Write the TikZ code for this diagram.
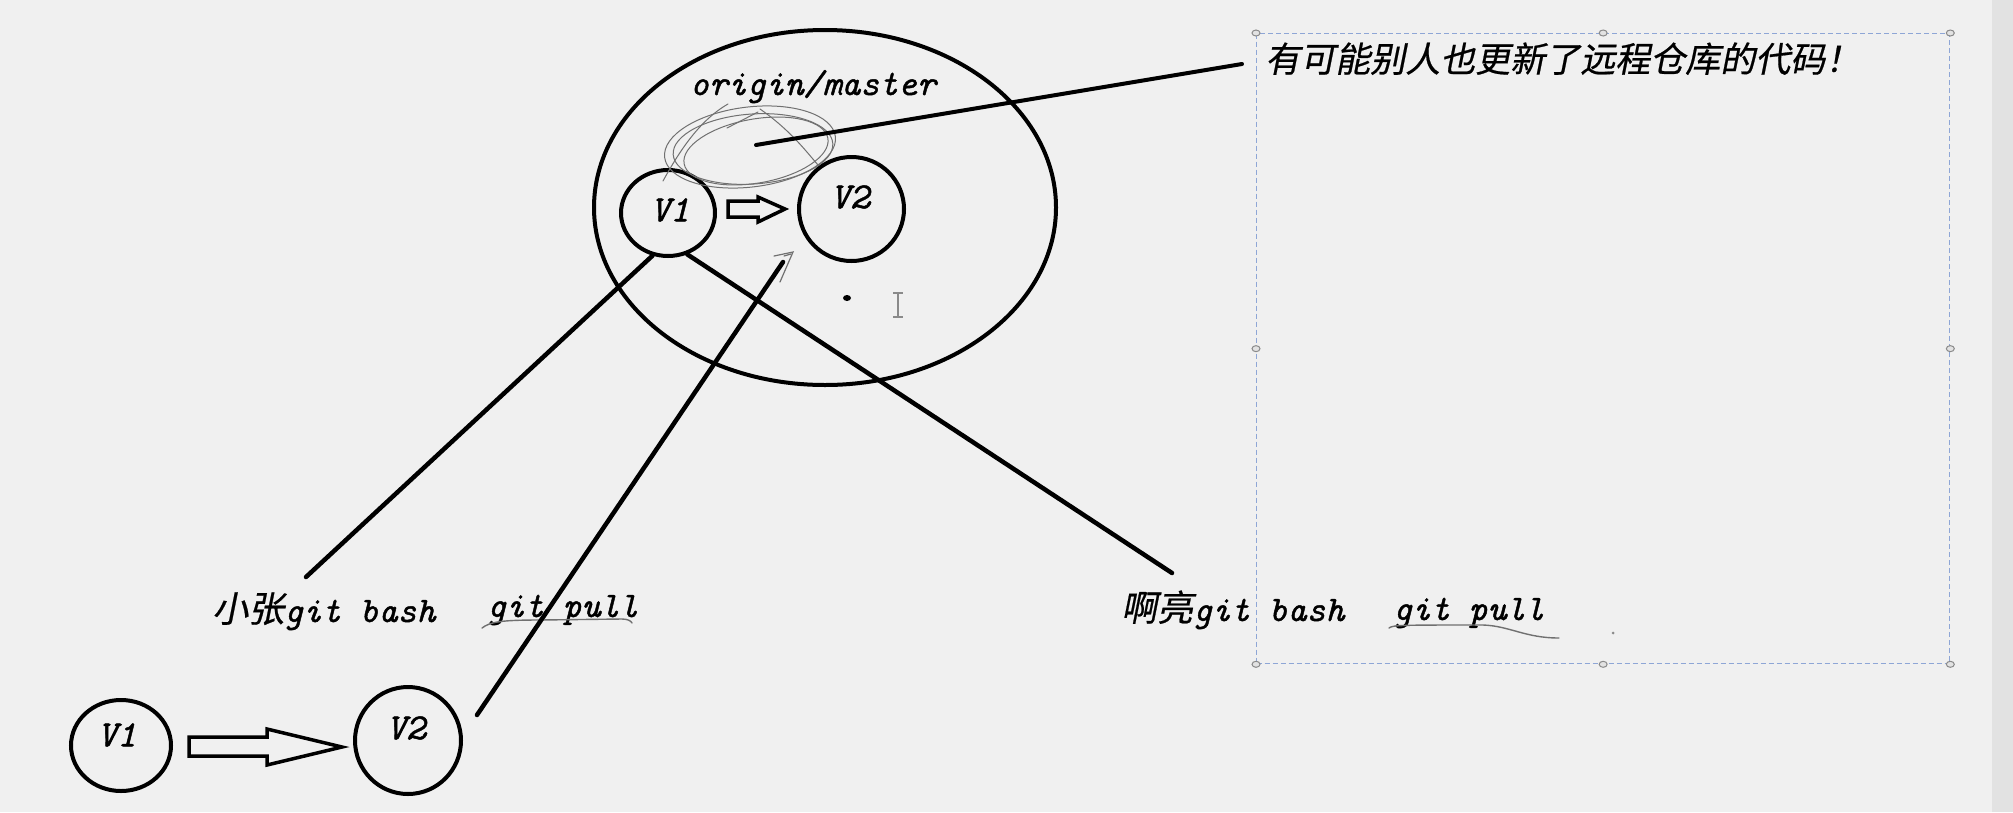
\documentclass[tikz,border=0pt]{standalone}
\usepackage{fontspec}
\newfontfamily\cjk[FakeSlant=0.2, FakeBold=0.6]{Noto Sans CJK SC}
\newfontfamily\latn[FakeBold=1.2]{Latin Modern Mono}
\usetikzlibrary{shapes.geometric}
\definecolor{bgc}{HTML}{F0F0F0}
\definecolor{stripc}{HTML}{E2E2E2}
\definecolor{boxc}{HTML}{8EA6D6}
\definecolor{handc}{HTML}{8A8A8A}
\definecolor{scribc}{HTML}{707070}
\tikzset{
  ring/.style={draw=black, line width=4pt, ellipse, inner sep=0pt},
  vlab/.style={inner sep=0pt, font=\fontsize{37}{40}\selectfont\latn\itshape},
  txt/.style={anchor=base west, inner sep=0pt, font=\fontsize{36}{40}\selectfont\latn\itshape},
  ctxt/.style={anchor=base west, inner sep=0pt, font=\fontsize{35}{40}\selectfont\cjk},
  link/.style={draw=black, line width=4.5pt, line cap=round},
  blockarrow/.style={draw=black, line width=3.5pt, line join=miter},
  scrib/.style={draw=scribc, line width=1pt, line cap=round},
  wavy/.style={draw=scribc, line width=1.4pt, line cap=round},
  handle/.style={draw=handc, fill=stripc, line width=1pt},
}
\begin{document}
\begin{tikzpicture}[x=1pt,y=-1pt]
\useasboundingbox (0,0) rectangle (2013,812);
\fill[bgc] (0,0) rectangle (2013,812);
\fill[stripc] (1992,0) rectangle (2013,812);

% remote repository
\node[ring, minimum width=462, minimum height=355] (repo) at (825,207.5) {};
\node[txt] (om) at (690,95) {origin/master};
\node[ring, minimum width=94, minimum height=86] (V1) at (668,213) {};
\node[ring, minimum width=105, minimum height=104] (V2) at (851.5,209) {};
\node[vlab] (tV1) at (670,210) {V1};
\node[vlab] (tV2) at (850,197) {V2};
\draw[blockarrow] (728,201) -- (758,201) -- (758,197) -- (785,209) -- (758,222) -- (758,217) -- (728,217) -- cycle;

% scribble
\coordinate (sc) at (756,145);
\draw[scrib] (750,147) ellipse[x radius=86, y radius=40, rotate=7];
\draw[scrib] (753,149) ellipse[x radius=80, y radius=35, rotate=4];
\draw[scrib] (756,151) ellipse[x radius=73, y radius=32, rotate=10];
\draw[scrib] (663,181) .. controls (680,150) and (700,120) .. (728,104);
\draw[scrib] (727,128) -- (758,112);
\draw[scrib] (760,109) .. controls (790,130) and (805,150) .. (818,165);

% local (xiaozhang)
\node[ring, minimum width=100, minimum height=91] (L1) at (121,745.5) {};
\node[ring, minimum width=106, minimum height=107] (L2) at (408,740.5) {};
\node[vlab] (tL1) at (117,735) {V1};
\node[vlab] (tL2) at (406,728) {V2};
\draw[blockarrow] (189,737) -- (267,737) -- (267,729) -- (342,747) -- (267,765) -- (267,756) -- (189,756) -- cycle;

% labels
\node[txt] (zb) at (212,622) {{\upshape\cjk 小张}git bash};
\node[txt] (zp) at (487,617) {git pull};
\node[txt] (lb) at (1121,621) {{\upshape\cjk 啊亮}git bash};
\node[txt] (lp) at (1393,620) {git pull};
\draw[wavy] (482,628) .. controls (490,622) and (500,620) .. (540,620) -- (622,619) .. controls (628,619) and (631,621) .. (632,623);
\draw[wavy] (1389,628) .. controls (1393,625) and (1400,625) .. (1483,625) .. controls (1510,626) and (1525,638) .. (1559,638);
\fill[handc] (1613,633) circle[radius=1.5];

% connectors
\coordinate (a1) at (306,577);
\coordinate (a2) at (1172,573);
\coordinate (p0) at (477,715);
\coordinate (p1) at (783,262);
\draw[link] (V1.-110) -- (a1);
\draw[link] (V1.-65) -- (a2);
\draw[link] (p0) -- (p1);
\draw[scrib, line width=1.2pt] (774,256) -- (793,252) -- (780,282);
\draw[scrib, line width=1.2pt] (784,256) -- (791,254);

% dot and cursor
\fill[black] (847,298) circle[x radius=4, y radius=3];
\draw[handc, line width=1.3pt] (893,293) -- (903,293) (898,293) -- (898,317) (893,317) -- (903,317);

% text box
\node[draw=boxc, line width=1.3pt, dash pattern=on 5pt off 3pt, minimum width=693, minimum height=630, anchor=north west, inner sep=0pt] (box) at (1256,33) {};
\foreach \a in {north west,north,north east,east,south east,south,south west,west}
  \draw[handle] (box.\a) circle[x radius=4, y radius=3];
\node[ctxt] (note) at (1265,72) {有可能别人也更新了远程仓库的代码！};
\coordinate (cm) at (1242,64);
\draw[link, line width=4pt] (sc) -- (cm);
\end{tikzpicture}
\end{document}
